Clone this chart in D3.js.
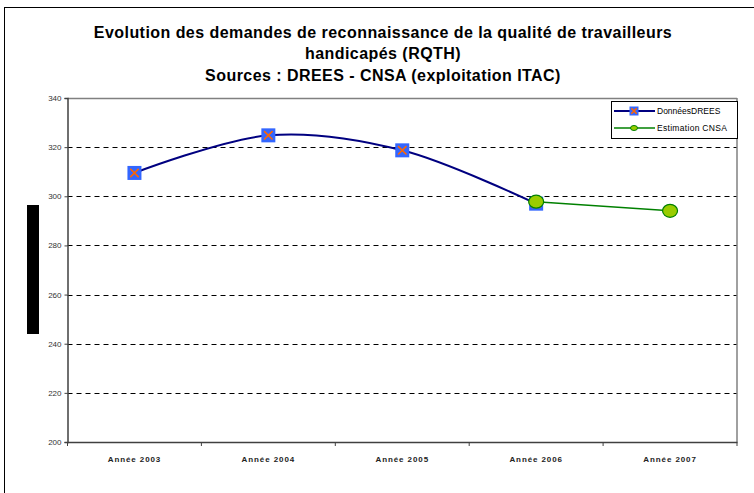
<!DOCTYPE html>
<html><head><meta charset="utf-8">
<script src="https://cdn.jsdelivr.net/npm/d3@7"></script>
<style>body{margin:0;background:#fff}svg{display:block;font-family:"Liberation Sans",Arial,sans-serif}</style>
</head><body><svg id="c" width="754" height="493"></svg>
<script>
const categories = ["Année 2003","Année 2004","Année 2005","Année 2006","Année 2007"];
const dreesValues = [309.5, 324.8, 318.7, 297.0, null];
const cnsaValues = [null, null, null, 297.8, 294.1];
const yTicks = [200,220,240,260,280,300,320,340];
const titleLines = ["Evolution des demandes de reconnaissance de la qualité de travailleurs","handicapés (RQTH)","Sources : DREES - CNSA (exploitation ITAC)"];
const legendLabels = ["DonnéesDREES","Estimation CNSA"];

const svg = d3.select("#c");
const L = 67.5, R = 737, T = 98, B = 442;

// outer frame
svg.append("rect").attr("x",4.5).attr("y",7.5).attr("width",760).attr("height",500)
  .attr("fill","none").attr("stroke","#000").attr("stroke-width",1);

// title
const ty = [38, 59, 81];
titleLines.forEach((t,i)=>{
  svg.append("text").attr("x",383).attr("y",ty[i]).attr("text-anchor","middle")
    .attr("font-size","16px").attr("font-weight","bold").attr("letter-spacing","0.45px")
    .attr("fill","#000").text(t);
});

const x = d3.scaleBand().domain(categories).range([L,R]);
const y = d3.scaleLinear().domain([200,340]).range([B,T]);
const cx = c => x(c) + x.bandwidth()/2;

// gridlines
svg.append("g").selectAll("line").data(yTicks.filter(v=>v>200 && v<340)).join("line")
  .attr("x1",L).attr("x2",R).attr("y1",d=>Math.round(y(d))+0.5).attr("y2",d=>Math.round(y(d))+0.5)
  .attr("stroke","#000").attr("stroke-dasharray","5,4").attr("stroke-width",1);
// top & right border
svg.append("line").attr("x1",L).attr("x2",R).attr("y1",T+0.5).attr("y2",T+0.5).attr("stroke","#808080").attr("stroke-width",1.5);
svg.append("line").attr("x1",R).attr("x2",R).attr("y1",T).attr("y2",B).attr("stroke","#808080").attr("stroke-width",1.5);

// y axis
const ya = svg.append("g").attr("transform",`translate(${L},0)`)
  .call(d3.axisLeft(y).tickValues(yTicks).tickSize(3).tickPadding(3).tickFormat(d3.format("d")));
ya.select(".domain").attr("stroke","#404040").attr("stroke-width",1.5);
ya.selectAll(".tick line").attr("stroke","#404040");
ya.selectAll("text").attr("font-size","8px").attr("fill","#333").attr("font-family","Liberation Sans, Arial, sans-serif");

// x axis
const xa = svg.append("g").attr("transform",`translate(0,${B})`)
  .call(d3.axisBottom(x).tickSize(0).tickPadding(14));
xa.select(".domain").attr("stroke","#404040").attr("stroke-width",1.5);
xa.selectAll("text").attr("font-size","8px").attr("font-weight","bold").attr("fill","#222")
  .attr("letter-spacing","0.9px").attr("font-family","Liberation Sans, Arial, sans-serif");
// category boundary ticks
const bounds = categories.map(c=>x(c)).concat([R]);
svg.append("g").selectAll("line").data(bounds).join("line")
  .attr("x1",d=>d).attr("x2",d=>d).attr("y1",B).attr("y2",B+4).attr("stroke","#404040").attr("stroke-width",1);

// black bar (hidden axis title)
svg.append("rect").attr("x",27).attr("y",205).attr("width",12).attr("height",129).attr("fill","#000");

// DREES line
const dreesPts = categories.map((c,i)=>({c, v:dreesValues[i]})).filter(d=>d.v!=null);
const line = d3.line().x(d=>cx(d.c)).y(d=>y(d.v)).curve(d3.curveCardinal.tension(0));
svg.append("path").datum(dreesPts).attr("d",line).attr("fill","none").attr("stroke","#000080").attr("stroke-width",2);

function square(g, px, py, s){
  g.append("rect").attr("x",px-s/2).attr("y",py-s/2).attr("width",s).attr("height",s).attr("fill","#3366FF");
  const k = s*0.3;
  g.append("path").attr("d",`M${px-k},${py-k}L${px+k},${py+k}M${px-k},${py+k}L${px+k},${py-k}`)
    .attr("stroke","#FF6600").attr("stroke-width",1.6);
}
dreesPts.forEach(d=>square(svg, cx(d.c), y(d.v), 14));

// CNSA line
const cnsaPts = categories.map((c,i)=>({c, v:cnsaValues[i]})).filter(d=>d.v!=null);
svg.append("path").datum(cnsaPts).attr("d",d3.line().x(d=>cx(d.c)).y(d=>y(d.v)))
  .attr("fill","none").attr("stroke","#008000").attr("stroke-width",1.5);
svg.append("g").selectAll("ellipse").data(cnsaPts).join("ellipse")
  .attr("cx",d=>cx(d.c)).attr("cy",d=>y(d.v)).attr("rx",7.5).attr("ry",6.5)
  .attr("fill","#99CC00").attr("stroke","#008000").attr("stroke-width",1.2);

// legend
const lg = svg.append("g");
lg.append("rect").attr("x",611.5).attr("y",101.5).attr("width",126).attr("height",37)
  .attr("fill","#fff").attr("stroke","#000").attr("stroke-width",1);
lg.append("line").attr("x1",614).attr("x2",655).attr("y1",111).attr("y2",111).attr("stroke","#000080").attr("stroke-width",2);
square(lg, 634, 111, 9);
lg.append("line").attr("x1",614).attr("x2",655).attr("y1",128).attr("y2",128).attr("stroke","#008000").attr("stroke-width",1.5);
lg.append("ellipse").attr("cx",634).attr("cy",128).attr("rx",3.5).attr("ry",2.5).attr("fill","#99CC00").attr("stroke","#008000").attr("stroke-width",1);
legendLabels.forEach((t,i)=>{
  lg.append("text").attr("x",657).attr("y",114+i*17).attr("font-size","8.5px").attr("fill","#000")
    .attr("letter-spacing", i===0 ? "0px" : "0.3px").text(t);
});
</script></body></html>
